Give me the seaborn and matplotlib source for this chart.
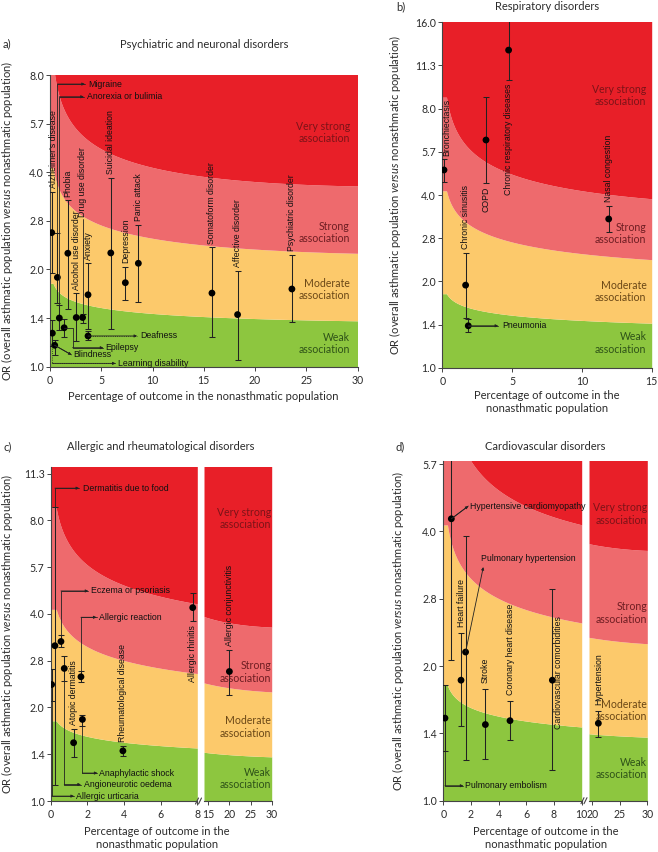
import math
import numpy as np
import pandas as pd
import matplotlib
matplotlib.use("Agg")
import matplotlib.pyplot as plt
from matplotlib.lines import Line2D
from matplotlib.ticker import FixedLocator, FixedFormatter, NullLocator
import seaborn as sns

# ---- data ---------------------------------------------------------------
# a) psychiatric and neuronal disorders
names_a = ["Alzheimer's disease", "Migraine", "Learning disability", "Blindness",
           "Anorexia or bulimia", "Epilepsy", "Phobia", "Alcohol use disorder",
           "Drug use disorder", "Anxiety", "Deafness", "Suicidal ideation",
           "Depression", "Panic attack", "Somatoform disorder", "Affective disorder",
           "Psychiatric disorder"]
pct_a = [0.17, 0.72, 0.23, 0.46, 0.91, 1.38, 1.74, 2.56, 3.18, 3.71, 3.71, 5.93, 7.35, 8.62, 15.8, 18.3, 23.6]
or_a = [2.60, 1.89, 1.27, 1.165, 1.415, 1.32, 2.245, 1.42, 1.42, 1.67, 1.245, 2.25, 1.82, 2.09, 1.69, 1.45, 1.74]
lo_a = [1.95, 1.57, 1.16, 1.09, 1.30, 1.24, 1.51, 1.20, 1.37, 1.31, 1.21, 1.31, 1.61, 1.59, 1.24, 1.05, 1.38]
hi_a = [3.48, 2.60, 1.40, 1.21, 1.55, 1.41, 3.28, 1.69, 1.46, 2.09, 1.29, 3.85, 2.04, 2.75, 2.34, 1.98, 2.22]

# b) respiratory disorders
names_b = ["Bronchiectasis", "Chronic sinusitis", "Pneumonia", "COPD",
           "Chronic respiratory diseases", "Nasal congestion"]
pct_b = [0.12, 1.67, 1.86, 3.13, 4.75, 11.92]
or_b = [4.89, 1.94, 1.40, 6.22, 12.8, 3.30]
lo_b = [4.45, 1.49, 1.335, 4.42, 10.07, 2.97]
hi_b = [5.33, 2.52, 1.48, 8.76, 17.0, 3.66]

# c) allergic and rheumatological disorders
names_c = ["Allergic urticaria", "Dermatitis due to food", "Eczema or psoriasis",
           "Angioneurotic oedema", "Atopic dermatitis", "Allergic reaction",
           "Anaphylactic shock", "Rheumatological disease", "Allergic rhinitis",
           "Allergic conjunctivitis"]
pct_c = [0.05, 0.23, 0.56, 0.74, 1.25, 1.65, 1.73, 3.94, 7.75, 20.0]
or_c = [2.37, 3.16, 3.26, 2.67, 1.54, 2.51, 1.83, 1.45, 4.19, 2.61]
lo_c = [2.10, 1.13, 3.12, 2.44, 1.39, 2.41, 1.74, 1.40, 3.80, 2.20]
hi_c = [2.65, 8.80, 3.41, 2.92, 1.70, 2.62, 1.89, 1.50, 4.66, 3.07]

# d) cardiovascular disorders
names_d = ["Pulmonary embolism", "Hypertensive cardiomyopathy", "Heart failure",
           "Pulmonary hypertension", "Stroke", "Coronary heart disease",
           "Cardiovascular comorbidities", "Hypertension"]
pct_d = [0.12, 0.58, 1.28, 1.61, 3.04, 4.82, 7.88, 21.1]
or_d = [1.53, 4.27, 1.86, 2.15, 1.48, 1.51, 1.86, 1.49]
lo_d = [1.29, 2.06, 1.47, 1.23, 1.24, 1.37, 1.17, 1.39]
hi_d = [1.81, 6.50, 2.37, 3.90, 1.78, 1.67, 2.97, 1.59]

# Cohen's d cut-offs separating weak / moderate / strong / very strong
cohen_d = [0.2, 0.5, 0.8]
band_names = ["Weak\nassociation", "Moderate\nassociation", "Strong\nassociation", "Very strong\nassociation"]
band_colours = ["#8dc63f", "#fcc96b", "#ee6a6d", "#e81f28"]
band_text = ["#2e5218", "#6a4716", "#6e1d22", "#7c1318"]

or_ticks = [1.0, 2 ** 0.5, 2.0, 2 ** 1.5, 4.0, 2 ** 2.5, 8.0, 2 ** 3.5, 16.0]
or_tick_labels = ["1.0", "1.4", "2.0", "2.8", "4.0", "5.7", "8.0", "11.3", "16.0"]

# ---- style ---------------------------------------------------------------
sns.set_theme(style="ticks")
plt.rcParams["font.family"] = ["Lato", "DejaVu Sans"]
plt.rcParams["mathtext.fontset"] = "custom"
plt.rcParams["mathtext.rm"] = "Lato"
plt.rcParams["mathtext.it"] = "Lato:italic"
ANNOT = ["Liberation Sans", "DejaVu Sans"]
FS_ANNOT = 6.3
FS_TEXT = 8.0
FS_TICK = 7.6
FS_BAND = 7.6
GREY = "#2b2b2b"

W, H = 658, 852
fig = plt.figure(figsize=(W / 100, H / 100), dpi=100)


def px_axes(l, r, t, b):
    return fig.add_axes([l / W, 1 - b / H, (r - l) / W, (b - t) / H])


def fig_text(x, y, s, **kw):
    kw.setdefault("fontsize", FS_TEXT)
    kw.setdefault("color", GREY)
    fig.text(x / W, 1 - y / H, s, **kw)


def norm_cdf(z):
    return 0.5 * (1 + np.vectorize(math.erf)(z / math.sqrt(2)))


def norm_ppf(p):
    lo = np.full_like(p, -10.0)
    hi = np.full_like(p, 10.0)
    for _ in range(70):
        mid = (lo + hi) / 2
        below = norm_cdf(mid) < p
        lo = np.where(below, mid, lo)
        hi = np.where(below, hi, mid)
    return (lo + hi) / 2


def or_threshold(d, pct):
    p0 = np.maximum(pct, 0.3) / 100
    p1 = norm_cdf(norm_ppf(p0) + d)
    return (p1 / (1 - p1)) / (p0 / (1 - p0))


def draw_bands(ax, xlim):
    xs = np.linspace(xlim[0], xlim[1], 300)
    curves = [np.full_like(xs, 0.5)] + [or_threshold(d, xs) for d in cohen_d] + [np.full_like(xs, 40.0)]
    for i, col in enumerate(band_colours):
        ax.fill_between(xs, curves[i], curves[i + 1], color=col, lw=0, zorder=0)


def setup_axis(ax, xlim, ylim, xticks, show_y=True):
    ax.set_yscale("log", base=2)
    ax.set_xlim(*xlim)
    ax.set_ylim(*ylim)
    ax.set_xticks(xticks)
    ax.set_xticklabels([str(t) for t in xticks])
    keep = [i for i, t in enumerate(or_ticks) if ylim[0] - 1e-6 <= t <= ylim[1] + 1e-6]
    ax.yaxis.set_major_locator(FixedLocator([or_ticks[i] for i in keep]))
    ax.yaxis.set_major_formatter(FixedFormatter([or_tick_labels[i] for i in keep]))
    ax.yaxis.set_minor_locator(NullLocator())
    ax.xaxis.set_minor_locator(NullLocator())
    for s in ["top", "right"]:
        ax.spines[s].set_visible(False)
    for s in ["left", "bottom"]:
        ax.spines[s].set_color("#444444")
        ax.spines[s].set_linewidth(0.8)
    ax.tick_params(labelsize=FS_TICK, length=3, width=0.7, colors="#444444",
                   labelcolor=GREY, pad=1.5)
    ax.tick_params(axis="x", pad=3)
    if not show_y:
        ax.spines["left"].set_visible(False)
        ax.tick_params(axis="y", left=False, labelleft=False)
    ax.set_xlabel("")
    ax.set_ylabel("")
    ax.set_facecolor("white")


def draw_points(ax, names, pct, ors, lo, hi, xlim):
    df = pd.DataFrame({"name": names, "pct": pct, "or": ors, "lo": lo, "hi": hi})
    df = df[(df["pct"] >= xlim[0]) & (df["pct"] <= xlim[1])]
    ax.errorbar(df["pct"], df["or"], yerr=[df["or"] - df["lo"], df["hi"] - df["or"]],
                fmt="none", ecolor="#222222", elinewidth=0.75, capsize=2, capthick=0.75,
                zorder=3, clip_on=True)
    sns.scatterplot(data=df, x="pct", y="or", ax=ax, color="black", s=24,
                    edgecolor="none", legend=False, zorder=4)


def band_labels(ax, ys, right=0.975):
    for name, y, col in zip(band_names, ys, band_text):
        ax.text(right, y, name, transform=ax.get_yaxis_transform(), ha="right",
                va="center", fontsize=FS_BAND, color=col, linespacing=1.15, zorder=6)


def vlabel(ax, x, y, s, va="bottom"):
    ax.text(x, y, s, rotation=90, ha="center", va=va, fontsize=FS_ANNOT,
            family=ANNOT, color="#111111", zorder=6)


def elbow(ax, pts, s, tx, dotted=False):
    xs = [p[0] for p in pts]
    ys = [p[1] for p in pts]
    ls = ":" if dotted else "-"
    ax.plot(xs, ys, color="#222222", lw=0.6, ls=ls, zorder=5)
    ax.annotate("", xy=pts[-1], xytext=pts[-2], zorder=5,
                arrowprops=dict(arrowstyle="-|>", lw=0.6, color="#222222",
                                mutation_scale=4, shrinkA=0, shrinkB=0))
    ax.text(tx, pts[-1][1], s, ha="left", va="center", fontsize=FS_ANNOT,
            family=ANNOT, color="#111111", zorder=6)


def break_marks(xa, xb, y):
    for dx in (0, 3):
        fig.add_artist(Line2D([(xa + dx) / W, (xa + dx + 3) / W],
                              [1 - (y + 3) / H, 1 - (y - 3) / H],
                              color="#444444", lw=0.8))


ylab = "OR (overall asthmatic population $\\mathit{versus}$ nonasthmatic population)"
xlab = "Percentage of outcome in the nonasthmatic population"
xlab2 = "Percentage of outcome in the\nnonasthmatic population"

# ---- a) ------------------------------------------------------------------
ax_a = px_axes(50, 357.5, 75, 366.7)
xl = (0, 30)
draw_bands(ax_a, xl)
draw_points(ax_a, names_a, pct_a, or_a, lo_a, hi_a, xl)
setup_axis(ax_a, xl, (1.0, 8.0), [0, 5, 10, 15, 20, 25, 30])
band_labels(ax_a, [1.18, 1.73, 2.6, 5.3])
for i in [0, 6, 7, 9, 11, 12, 13, 14, 15, 16]:
    dx = 0.15 if i == 0 else 0.0
    vlabel(ax_a, pct_a[i] + dx, hi_a[i] * 1.025, names_a[i])
ax_a.plot([3.18, 3.18], [1.46, 2.86], color="#222222", lw=0.6, zorder=5)
vlabel(ax_a, 3.18, 2.9, "Drug use disorder")
elbow(ax_a, [(0.72, 2.6), (0.72, 7.5), (3.4, 7.5)], "Migraine", 3.7)
elbow(ax_a, [(0.91, 1.55), (0.91, 6.85), (3.3, 6.85)], "Anorexia or bulimia", 3.6)
elbow(ax_a, [(3.71, 1.245), (8.5, 1.245)], "Deafness", 8.8, dotted=True)
elbow(ax_a, [(1.38, 1.32), (2.2, 1.32), (2.2, 1.145), (5.2, 1.145)], "Epilepsy", 5.4)
elbow(ax_a, [(0.46, 1.165), (2.1, 1.088)], "Blindness", 2.3)
elbow(ax_a, [(0.23, 1.16), (0.23, 1.024), (6.4, 1.024)], "Learning disability", 6.6, dotted=True)
fig_text(3, 44, "a)", ha="left", va="center")
fig_text(203.7, 44, "Psychiatric and neuronal disorders", ha="center", va="center")
fig_text(7, 221, ylab, rotation=90, ha="center", va="center")
fig_text(203.7, 397, xlab, ha="center", va="center")

# ---- b) ------------------------------------------------------------------
ax_b = px_axes(442.3, 651.7, 22.3, 367.7)
xl = (0, 15)
draw_bands(ax_b, xl)
draw_points(ax_b, names_b, pct_b, or_b, lo_b, hi_b, xl)
setup_axis(ax_b, xl, (1.0, 16.0), [0, 5, 10, 15])
band_labels(ax_b, [1.22, 1.84, 2.94, 8.9])
vlabel(ax_b, 0.3, hi_b[0] * 1.03, names_b[0])
vlabel(ax_b, pct_b[1], hi_b[1] * 1.03, names_b[1])
vlabel(ax_b, pct_b[3], lo_b[3] / 1.03, names_b[3], va="top")
vlabel(ax_b, pct_b[4], lo_b[4] / 1.03, names_b[4], va="top")
vlabel(ax_b, pct_b[5], hi_b[5] * 1.03, names_b[5])
elbow(ax_b, [(1.86, 1.40), (4.0, 1.40)], "Pneumonia", 4.3)
fig_text(396, 7, "b)", ha="left", va="center")
fig_text(547, 7, "Respiratory disorders", ha="center", va="center")
fig_text(395, 195, ylab, rotation=90, ha="center", va="center")
fig_text(547, 402, xlab2, ha="center", va="center", linespacing=1.25)

# ---- c) ------------------------------------------------------------------
ax_c = px_axes(50.7, 197.3, 466.7, 801)
ax_c2 = px_axes(204, 271.7, 466.7, 801)
ylim_c = (1.0, 11.9)
for ax, xl, ticks, showy in [(ax_c, (0, 8), [0, 2, 4, 6, 8], True),
                             (ax_c2, (14, 30), [15, 20, 25, 30], False)]:
    draw_bands(ax, xl)
    draw_points(ax, names_c, pct_c, or_c, lo_c, hi_c, xl)
    setup_axis(ax, xl, ylim_c, ticks, show_y=showy)
band_labels(ax_c2, [1.18, 1.73, 2.6, 8.1], right=0.99)
vlabel(ax_c, pct_c[4], hi_c[4] * 1.03, names_c[4])
vlabel(ax_c, pct_c[7], hi_c[7] * 1.03, names_c[7])
vlabel(ax_c, pct_c[8], lo_c[8] / 1.03, names_c[8], va="top")
vlabel(ax_c2, pct_c[9], hi_c[9] * 1.03, names_c[9])
elbow(ax_c, [(0.23, 8.8), (0.23, 10.15), (1.55, 10.15)], "Dermatitis due to food", 1.75)
elbow(ax_c, [(0.56, 3.41), (0.56, 4.74), (2.05, 4.74)], "Eczema or psoriasis", 2.2)
elbow(ax_c, [(1.65, 2.62), (1.65, 3.9), (2.5, 3.9)], "Allergic reaction", 2.65)
elbow(ax_c, [(1.73, 1.74), (1.73, 1.23), (2.55, 1.23)], "Anaphylactic shock", 2.65)
elbow(ax_c, [(0.74, 2.44), (0.74, 1.13), (1.65, 1.13)], "Angioneurotic oedema", 1.8)
elbow(ax_c, [(0.05, 2.10), (0.05, 1.037), (1.27, 1.037)], "Allergic urticaria", 1.4)
break_marks(195.5, 201, 801)
fig_text(3, 447, "c)", ha="left", va="center")
fig_text(161, 447, "Allergic and rheumatological disorders", ha="center", va="center")
fig_text(7, 634, ylab, rotation=90, ha="center", va="center")
fig_text(157, 838, xlab2, ha="center", va="center", linespacing=1.25)

# ---- d) ------------------------------------------------------------------
ax_d = px_axes(443.3, 581.7, 461, 800.7)
ax_d2 = px_axes(589, 647.3, 461, 800.7)
ylim_d = (1.0, 5.75)
for ax, xl, ticks, showy in [(ax_d, (0, 10), [0, 2, 4, 6, 8, 10], True),
                             (ax_d2, (19.4, 30), [20, 25, 30], False)]:
    draw_bands(ax, xl)
    draw_points(ax, names_d, pct_d, or_d, lo_d, hi_d, xl)
    setup_axis(ax, xl, ylim_d, ticks, show_y=showy)
band_labels(ax_d2, [1.18, 1.59, 2.63, 4.38], right=0.995)
vlabel(ax_d, pct_d[2] + 0.05, hi_d[2] * 1.03, names_d[2])
vlabel(ax_d, pct_d[4], hi_d[4] * 1.03, names_d[4])
vlabel(ax_d, pct_d[5], hi_d[5] * 1.03, names_d[5])
vlabel(ax_d, 8.35, 1.45, names_d[6])
vlabel(ax_d2, pct_d[7] + 0.1, hi_d[7] * 1.03, names_d[7])
elbow(ax_d, [(0.58, 4.27), (1.81, 4.56)], "Hypertensive cardiomyopathy", 1.95)
ax_d.annotate("", xy=(2.89, 3.33), xytext=(1.61, 2.15), zorder=5,
              arrowprops=dict(arrowstyle="-|>", lw=0.6, color="#222222",
                              mutation_scale=4, shrinkA=0, shrinkB=0))
ax_d.text(2.7, 3.4, "Pulmonary hypertension", ha="left", va="bottom",
          fontsize=FS_ANNOT, family=ANNOT, color="#111111", zorder=6)
elbow(ax_d, [(0.12, 1.29), (0.12, 1.08), (1.45, 1.08)], "Pulmonary embolism", 1.6)
break_marks(581, 586.5, 800.7)
fig_text(395, 447, "d)", ha="left", va="center")
fig_text(545.3, 447, "Cardiovascular disorders", ha="center", va="center")
fig_text(398, 631, ylab, rotation=90, ha="center", va="center")
fig_text(545.8, 838, xlab2, ha="center", va="center", linespacing=1.25)

fig.savefig("out.png", dpi=100, facecolor="white")
